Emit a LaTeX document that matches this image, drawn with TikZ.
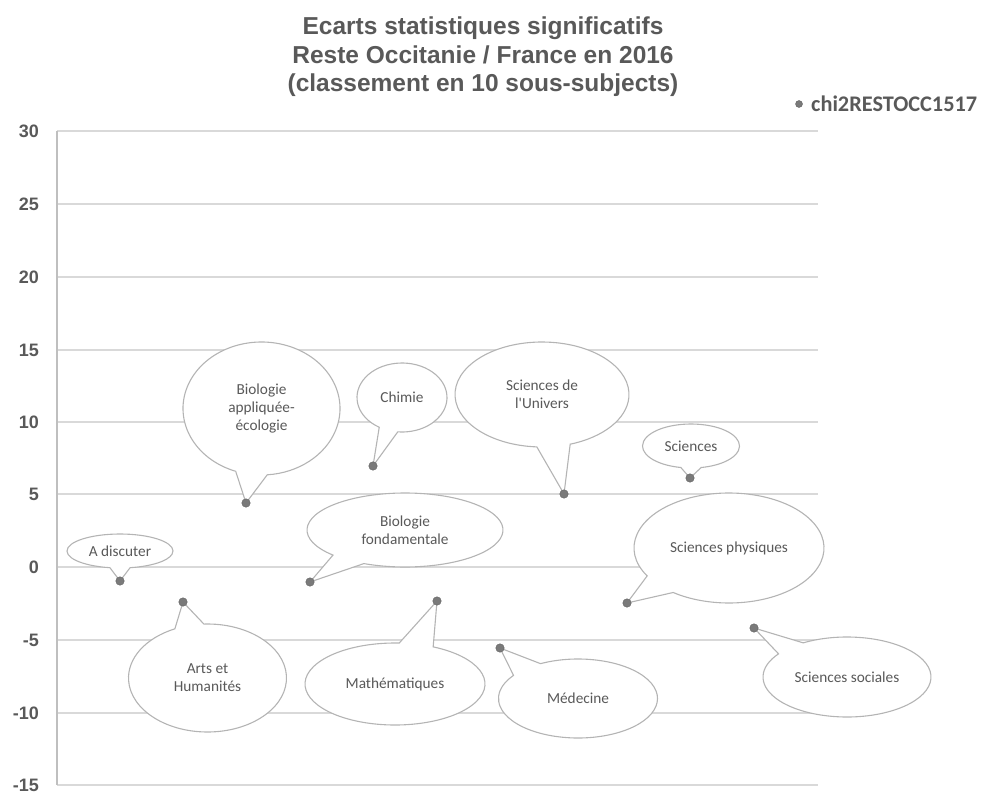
\documentclass[tikz,border=0pt]{standalone}
\usepackage{fontspec}
\setmainfont{Liberation Sans}
\newfontfamily\calib{Carlito}
\definecolor{txt}{HTML}{595959}
\definecolor{grid}{HTML}{D9D9D9}
\definecolor{axisc}{HTML}{BFBFBF}
\definecolor{bub}{HTML}{B4B4B4}
\definecolor{dotc}{HTML}{7A7A7A}
\tikzset{
  gridline/.style={draw=grid, line width=1.2pt},
  ylab/.style={anchor=east, text=txt, font=\bfseries\fontsize{18}{18}\selectfont, inner sep=0pt},
  bubtext/.style={inner sep=0pt, text=txt, align=center, font=\calib\fontsize{15.3}{18}\selectfont},
  bubline/.style={draw=bub, fill=white, line width=1.1pt, line join=miter},
  pt/.style={circle, fill=dotc, draw=dotc!80!black, line width=0.4pt, minimum size=8.5pt, inner sep=0pt},
  ttl/.style={text=txt, font=\bfseries\fontsize{24.5}{28.5}\selectfont, align=center}
}
% \mybubble{name}{cx}{cy}{a}{b}{t1}{t2}{tip}{text}
\newcommand{\mybubble}[9]{%
  \path[bubline] (#2,#3) ++(#7:#4 and #5) arc[start angle=#7, end angle=#6+360, x radius=#4, y radius=#5] -- (#8) -- cycle;
  \node[bubtext] (#1) at (#2,#3) {#9};
}
\begin{document}
\begin{tikzpicture}[x=1pt, y=-1pt]
\useasboundingbox (0,0) rectangle (982,794);
% title
\node[ttl] (title) at (483,57) {Ecarts statistiques significatifs\\Reste Occitanie / France en 2016\\(classement en 10 sous-subjects)};
% legend
\node[pt, minimum size=7pt] (legdot) at (799,104) {};
\node[anchor=west, text=txt, font=\calib\bfseries\fontsize{22.3}{22.3}\selectfont, inner sep=0pt] (legtxt) at (811,104) {chi2RESTOCC1517};
% grid
\foreach \v/\yy in {30/131,25/204,20/277,15/350,10/422,5/494,0/567,-5/640,-10/713,-15/785}{
  \draw[gridline] (57,\yy) -- (818,\yy);
  \node[ylab] at (39,\yy) {\v};
}
\draw[draw=axisc, line width=1.2pt] (57,131) -- (57,785);
% points
\coordinate (pA) at (120,581);
\coordinate (pAH) at (183,602);
\coordinate (pBA) at (246,503);
\coordinate (pBF) at (310,582);
\coordinate (pCh) at (373,466);
\coordinate (pMa) at (437,601);
\coordinate (pMe) at (500,648);
\coordinate (pSU) at (564,494);
\coordinate (pSP) at (627,603);
\coordinate (pSc) at (690,478);
\coordinate (pSS) at (754,628);
% bubbles
\mybubble{bA}{120}{551}{53}{17}{79}{101}{pA}{A discuter}
\mybubble{bAH}{207.5}{678}{79}{54}{245.6}{267.4}{pAH}{Arts et\\Humanités}
\mybubble{bBA}{261.5}{408.5}{78.5}{66.5}{85.8}{109.2}{pBA}{Biologie\\appliquée-\\écologie}
\mybubble{bBF}{405}{530}{98}{37}{114.8}{137.3}{pBF}{Biologie\\fondamentale}
\mybubble{bCh}{402}{397.5}{45}{34.5}{95.4}{120.4}{pCh}{Chimie}
\mybubble{bMa}{395}{684}{90}{41}{272.7}{295.1}{pMa}{Mathématiques}
\mybubble{bMe}{578}{698.5}{79.5}{39.5}{215.8}{241.9}{pMe}{Médecine}
\mybubble{bSU}{542}{394.5}{87}{52.5}{71.1}{93.4}{pSU}{Sciences de\\l'Univers}
\mybubble{bSP}{729}{548}{95}{55}{126}{149.5}{pSP}{Sciences physiques}
\mybubble{bSc}{691}{446}{48.5}{22}{77.9}{102.1}{pSc}{Sciences}
\mybubble{bSS}{847}{677}{84}{40}{215.4}{238.6}{pSS}{Sciences sociales}
% dots
\foreach \p in {pA,pAH,pBA,pBF,pCh,pMa,pMe,pSU,pSP,pSc,pSS}{
  \node[pt] at (\p) {};
}
\end{tikzpicture}
\end{document}
